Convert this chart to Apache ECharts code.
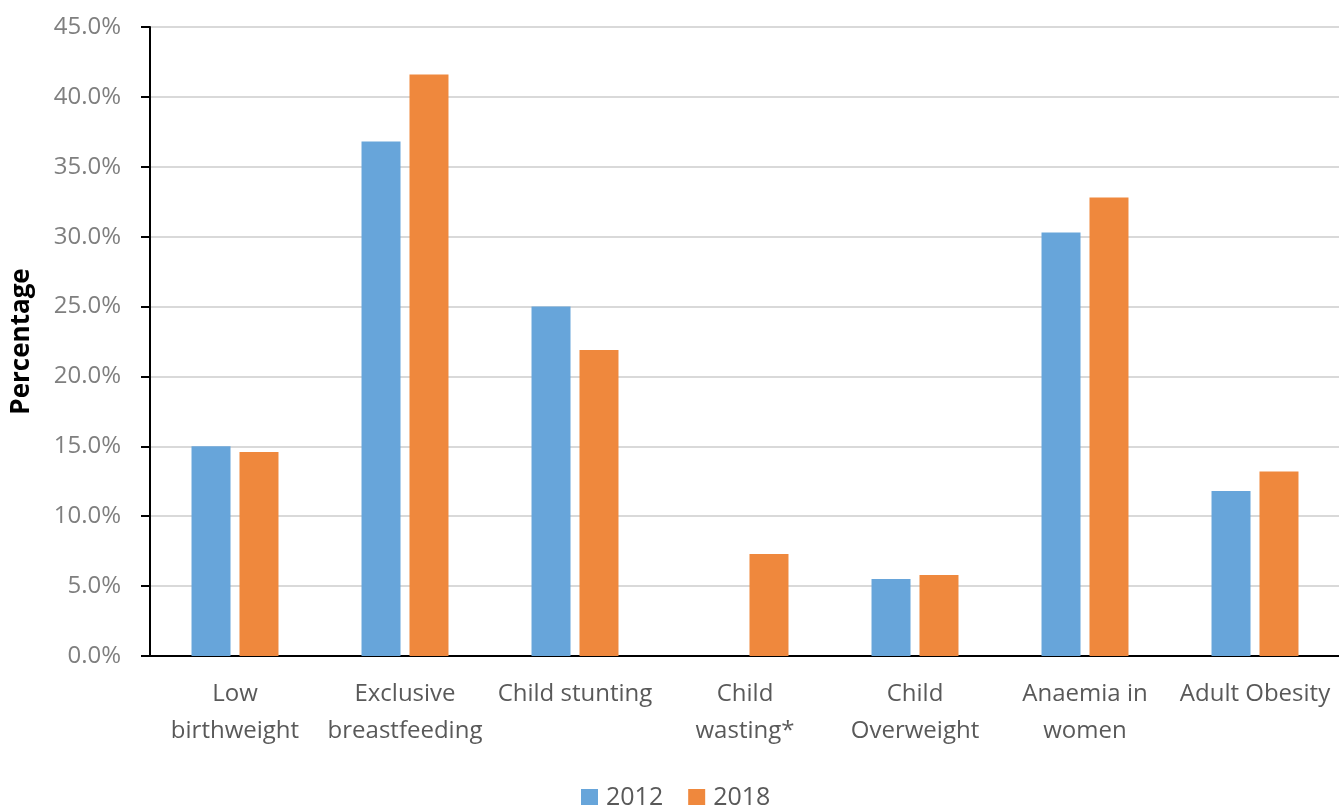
<!DOCTYPE html>
<html>
<head>
<meta charset="utf-8">
<script src="https://cdn.jsdelivr.net/npm/echarts@6/dist/echarts.min.js"></script>
<style>
  html, body { margin: 0; padding: 0; background: #fff; }
  #chart { width: 1339px; height: 805px; }
</style>
</head>
<body>
<div id="chart"></div>
<script>
// Nutrition indicators, share of population (%)
const categories = [
  'Low\nbirthweight',
  'Exclusive\nbreastfeeding',
  'Child stunting',
  'Child\nwasting*',
  'Child\nOverweight',
  'Anaemia in\nwomen',
  'Adult Obesity'
];
const values2012 = [15.0, 36.8, 25.0, null, 5.5, 30.3, 11.8];
const values2018 = [14.6, 41.6, 21.9, 7.3, 5.8, 32.8, 13.2];
const seriesNames = ['2012', '2018'];

const font = '"Open Sans", "Noto Sans", sans-serif';
const chart = echarts.init(document.getElementById('chart'));

chart.setOption({
  animation: false,
  textStyle: { fontFamily: font },
  grid: {
    left: 150, right: -1, top: 27, bottom: 149,
    containLabel: false,
    outerBoundsMode: 'none'
  },
  legend: {
    data: seriesNames,
    bottom: -10,
    left: 576,
    padding: 5,
    itemWidth: 17,
    itemHeight: 17,
    itemGap: 25,
    icon: 'rect',
    textStyle: { fontSize: 25, color: '#595959', fontFamily: font, padding: [0, 0, 0, 3] }
  },
  xAxis: {
    type: 'category',
    data: categories,
    axisLine: { lineStyle: { color: '#000', width: 2 } },
    axisTick: { show: false },
    axisLabel: {
      interval: 0,
      color: '#595959',
      fontSize: 24,
      lineHeight: 37,
      margin: 20,
      fontFamily: font
    }
  },
  yAxis: {
    type: 'value',
    min: 0,
    max: 45,
    interval: 5,
    name: 'Percentage',
    nameLocation: 'middle',
    nameGap: 115,
    nameTextStyle: { fontSize: 26, fontWeight: 'bold', color: '#000', fontFamily: font },
    axisLine: { show: true, lineStyle: { color: '#000', width: 2 } },
    axisTick: { show: true, length: 9, lineStyle: { color: '#000', width: 2 } },
    axisLabel: {
      formatter: v => v.toFixed(1) + '%',
      color: '#7f7f7f',
      fontSize: 24,
      margin: 29,
      fontFamily: font
    },
    splitLine: { lineStyle: { color: '#d9d9d9', width: 2 } }
  },
  series: [
    {
      name: seriesNames[0],
      type: 'bar',
      data: values2012,
      barWidth: 39,
      barGap: '23%',
      itemStyle: { color: '#67a5da' }
    },
    {
      name: seriesNames[1],
      type: 'bar',
      data: values2018,
      barWidth: 39,
      itemStyle: { color: '#ef883d' }
    }
  ]
});
</script>
</body>
</html>
